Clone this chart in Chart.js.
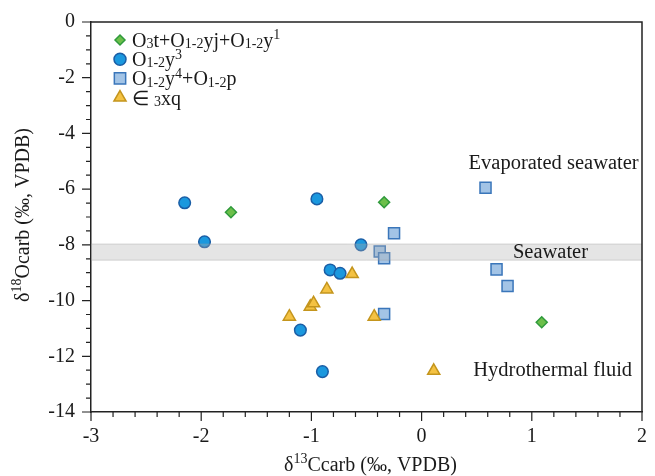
<!DOCTYPE html>
<html>
<head>
    <title>Carbon and oxygen isotopes</title>
    <script src="https://cdn.jsdelivr.net/npm/chart.js@4.4.0/dist/chart.umd.min.js"></script>
    <style>
        html, body { margin: 0; padding: 0; background: #fff; }
        #chart { display: block; }
    </style>
</head>
<body>
    <canvas id="chart" width="655" height="476"></canvas>
    <script>
        // Values (x = d13C, y = d18O, permil VPDB)
        const greenX = [-1.73, -0.34, 1.09];
        const greenY = [-6.83, -6.47, -10.78];

        const blueX = [-2.15, -1.97, -0.95, -0.55, -0.83, -0.74, -1.10, -0.90];
        const blueY = [-6.49, -7.89, -6.35, -8.00, -8.90, -9.02, -11.06, -12.55];

        const squareX = [-0.25, -0.38, -0.34, -0.34, 0.58, 0.68, 0.78];
        const squareY = [-7.58, -8.24, -8.48, -10.48, -5.95, -8.88, -9.48];

        const triX = [-0.63, -0.86, -1.01, -0.98, -1.20, -0.43, 0.11];
        const triY = [-9.05, -9.60, -10.22, -10.10, -10.58, -10.58, -12.52];

        const xMajor = [-3, -2, -1, 0, 1, 2];
        const yMajor = [0, -2, -4, -6, -8, -10, -12, -14];

        // seawater band (d18O range)
        const seawaterBand = [-7.97, -8.55];

        const FONT = "'Liberation Serif', 'Times New Roman', serif";
        const INK = '#1a1a1a';

        function pts(xs, ys) {
            return xs.map((x, i) => ({ x: x, y: ys[i] }));
        }

        // legend entries: pieces of text with sub / superscripts
        const legendItems = [
            { style: 'rectRot', r: 5, fill: '#6cbf4a', stroke: '#2f9a3c',
              text: [['O'], ['3', 'sub'], ['t+O'], ['1-2', 'sub'], ['yj+O'], ['1-2', 'sub'], ['y'], ['1', 'sup']] },
            { style: 'circle', r: 6, fill: '#1b98de', stroke: '#1a5ea6',
              text: [['O'], ['1-2', 'sub'], ['y'], ['3', 'sup']] },
            { style: 'rect', r: 8, fill: '#a3c4e6', stroke: '#3a76ba',
              text: [['O'], ['1-2', 'sub'], ['y'], ['4', 'sup'], ['+O'], ['1-2', 'sub'], ['p']] },
            { style: 'triangle', r: 7, fill: '#f4c243', stroke: '#c4951d',
              text: [['\u2208 '], ['3', 'sub'], ['xq']] }
        ];

        function segFont(size, kind) {
            return (kind ? Math.round(size * 0.7) : size) + 'px ' + FONT;
        }

        function richWidth(ctx, segs, size) {
            let w = 0;
            segs.forEach(s => { ctx.font = segFont(size, s[1]); w += ctx.measureText(s[0]).width; });
            return w;
        }

        function drawRich(ctx, x, y, segs, size) {
            let cx = x;
            segs.forEach(s => {
                ctx.font = segFont(size, s[1]);
                let dy = 0;
                if (s[1] === 'sub') dy = size * 0.06;
                if (s[1] === 'sup') dy = -size * 0.38;
                ctx.fillText(s[0], cx, y + dy);
                cx += ctx.measureText(s[0]).width;
            });
        }

        const overlay = {
            id: 'overlay',
            afterDatasetsDraw(chart) {
                const ctx = chart.ctx;
                const area = chart.chartArea;
                const ys = chart.scales.y;
                const xs = chart.scales.x;

                // translucent seawater band over the points
                const t = ys.getPixelForValue(seawaterBand[0]);
                const b = ys.getPixelForValue(seawaterBand[1]);
                ctx.save();
                ctx.fillStyle = 'rgba(175,175,175,0.32)';
                ctx.fillRect(area.left, t, area.right - area.left, b - t);
                ctx.strokeStyle = 'rgba(150,150,150,0.35)';
                ctx.lineWidth = 1;
                ctx.beginPath();
                ctx.moveTo(area.left, t); ctx.lineTo(area.right, t);
                ctx.moveTo(area.left, b); ctx.lineTo(area.right, b);
                ctx.stroke();

                // annotations
                ctx.fillStyle = INK;
                ctx.font = '20.5px ' + FONT;
                ctx.textAlign = 'right';
                ctx.textBaseline = 'middle';
                ctx.fillText('Evaporated seawater', xs.getPixelForValue(1.97), ys.getPixelForValue(-5.08));
                ctx.fillText('Seawater', xs.getPixelForValue(1.51), ys.getPixelForValue(-8.28));
                ctx.fillText('Hydrothermal fluid', xs.getPixelForValue(1.91), ys.getPixelForValue(-12.5));
                ctx.restore();
            },
            afterDraw(chart) {
                const ctx = chart.ctx;
                const area = chart.chartArea;
                const xs = chart.scales.x;
                const ys = chart.scales.y;
                ctx.save();

                // frame top and right
                ctx.strokeStyle = '#222';
                ctx.lineWidth = 1.5;
                ctx.beginPath();
                ctx.moveTo(area.left, area.top);
                ctx.lineTo(area.right, area.top);
                ctx.lineTo(area.right, area.bottom);
                ctx.stroke();

                // major and minor ticks, pointing out
                ctx.lineWidth = 1.2;
                ctx.beginPath();
                xs.ticks.forEach(tk => {
                    const px = xs.getPixelForValue(tk.value);
                    const major = xMajor.some(v => Math.abs(v - tk.value) < 1e-6);
                    ctx.moveTo(px, area.bottom);
                    ctx.lineTo(px, area.bottom + (major ? 9 : 5));
                });
                ys.ticks.forEach(tk => {
                    const py = ys.getPixelForValue(tk.value);
                    const major = yMajor.some(v => Math.abs(v - tk.value) < 1e-6);
                    ctx.moveTo(area.left - (major ? 9 : 5), py);
                    ctx.lineTo(area.left, py);
                });
                ctx.stroke();

                // legend
                ctx.textAlign = 'left';
                ctx.textBaseline = 'alphabetic';
                legendItems.forEach((it, i) => {
                    const cy = 40 + i * 19.2;
                    ctx.fillStyle = it.fill;
                    ctx.strokeStyle = it.stroke;
                    ctx.lineWidth = 1.5;
                    Chart.helpers.drawPoint(ctx, { pointStyle: it.style, radius: it.r, rotation: 0, borderWidth: 1.5 }, 120, cy);
                    ctx.fillStyle = INK;
                    drawRich(ctx, 132, cy + 7, it.text, 20);
                });

                // axis titles
                const xt = [['\u03b4'], ['13', 'sup'], ['Ccarb (\u2030, VPDB)']];
                const yt = [['\u03b4'], ['18', 'sup'], ['Ocarb (\u2030, VPDB)']];
                ctx.fillStyle = INK;
                const xw = richWidth(ctx, xt, 20);
                drawRich(ctx, (area.left + area.right) / 2 - xw / 2 + 4, 471, xt, 20);

                const yw = richWidth(ctx, yt, 20);
                ctx.translate(29, (area.top + area.bottom) / 2 - 2);
                ctx.rotate(-Math.PI / 2);
                drawRich(ctx, -yw / 2, 0, yt, 20);
                ctx.restore();
            }
        };

        function tickLabel(majors) {
            return function (value) {
                return majors.some(v => Math.abs(v - value) < 1e-6) ? String(Math.round(value)) : '';
            };
        }

        new Chart(document.getElementById('chart'), {
            type: 'scatter',
            data: {
                datasets: [
                    {
                        label: 'O3t+O1-2yj+O1-2y1',
                        data: pts(greenX, greenY),
                        pointStyle: 'rectRot',
                        radius: 5.5,
                        backgroundColor: '#6cbf4a',
                        borderColor: '#2f9a3c',
                        borderWidth: 1.5,
                        order: 3
                    },
                    {
                        label: 'O1-2y3',
                        data: pts(blueX, blueY),
                        pointStyle: 'circle',
                        radius: 5.8,
                        backgroundColor: '#1b98de',
                        borderColor: '#1a5ea6',
                        borderWidth: 1.5,
                        order: 2
                    },
                    {
                        label: 'O1-2y4+O1-2p',
                        data: pts(squareX, squareY),
                        pointStyle: 'rect',
                        radius: 7.8,
                        backgroundColor: '#a3c4e6',
                        borderColor: '#3a76ba',
                        borderWidth: 1.5,
                        order: 1
                    },
                    {
                        label: '\u22083xq',
                        data: pts(triX, triY),
                        pointStyle: 'triangle',
                        radius: 7,
                        backgroundColor: '#f4c243',
                        borderColor: '#c4951d',
                        borderWidth: 1.5,
                        order: 0
                    }
                ]
            },
            options: {
                responsive: false,
                animation: false,
                layout: { padding: { top: 22, right: 13, left: 0, bottom: 0 } },
                plugins: {
                    legend: { display: false },
                    tooltip: { enabled: false }
                },
                scales: {
                    x: {
                        type: 'linear',
                        min: -3,
                        max: 2,
                        afterFit: s => { s.height = 64; },
                        border: { display: true, color: '#222', width: 1.5 },
                        grid: { drawOnChartArea: false, tickLength: 9, tickColor: 'rgba(0,0,0,0)' },
                        ticks: {
                            stepSize: 0.2,
                            maxTicksLimit: 100,
                            autoSkip: false,
                            maxRotation: 0,
                            padding: 4,
                            color: INK,
                            font: { family: FONT, size: 20 },
                            callback: tickLabel(xMajor)
                        }
                    },
                    y: {
                        type: 'linear',
                        min: -14,
                        max: 0,
                        afterFit: s => { s.width = 91; },
                        border: { display: true, color: '#222', width: 1.5 },
                        grid: { drawOnChartArea: false, tickLength: 9, tickColor: 'rgba(0,0,0,0)' },
                        ticks: {
                            stepSize: 0.5,
                            maxTicksLimit: 100,
                            autoSkip: false,
                            padding: 7,
                            color: INK,
                            font: { family: FONT, size: 20 },
                            callback: tickLabel(yMajor)
                        }
                    }
                }
            },
            plugins: [overlay]
        });
    </script>
</body>
</html>
